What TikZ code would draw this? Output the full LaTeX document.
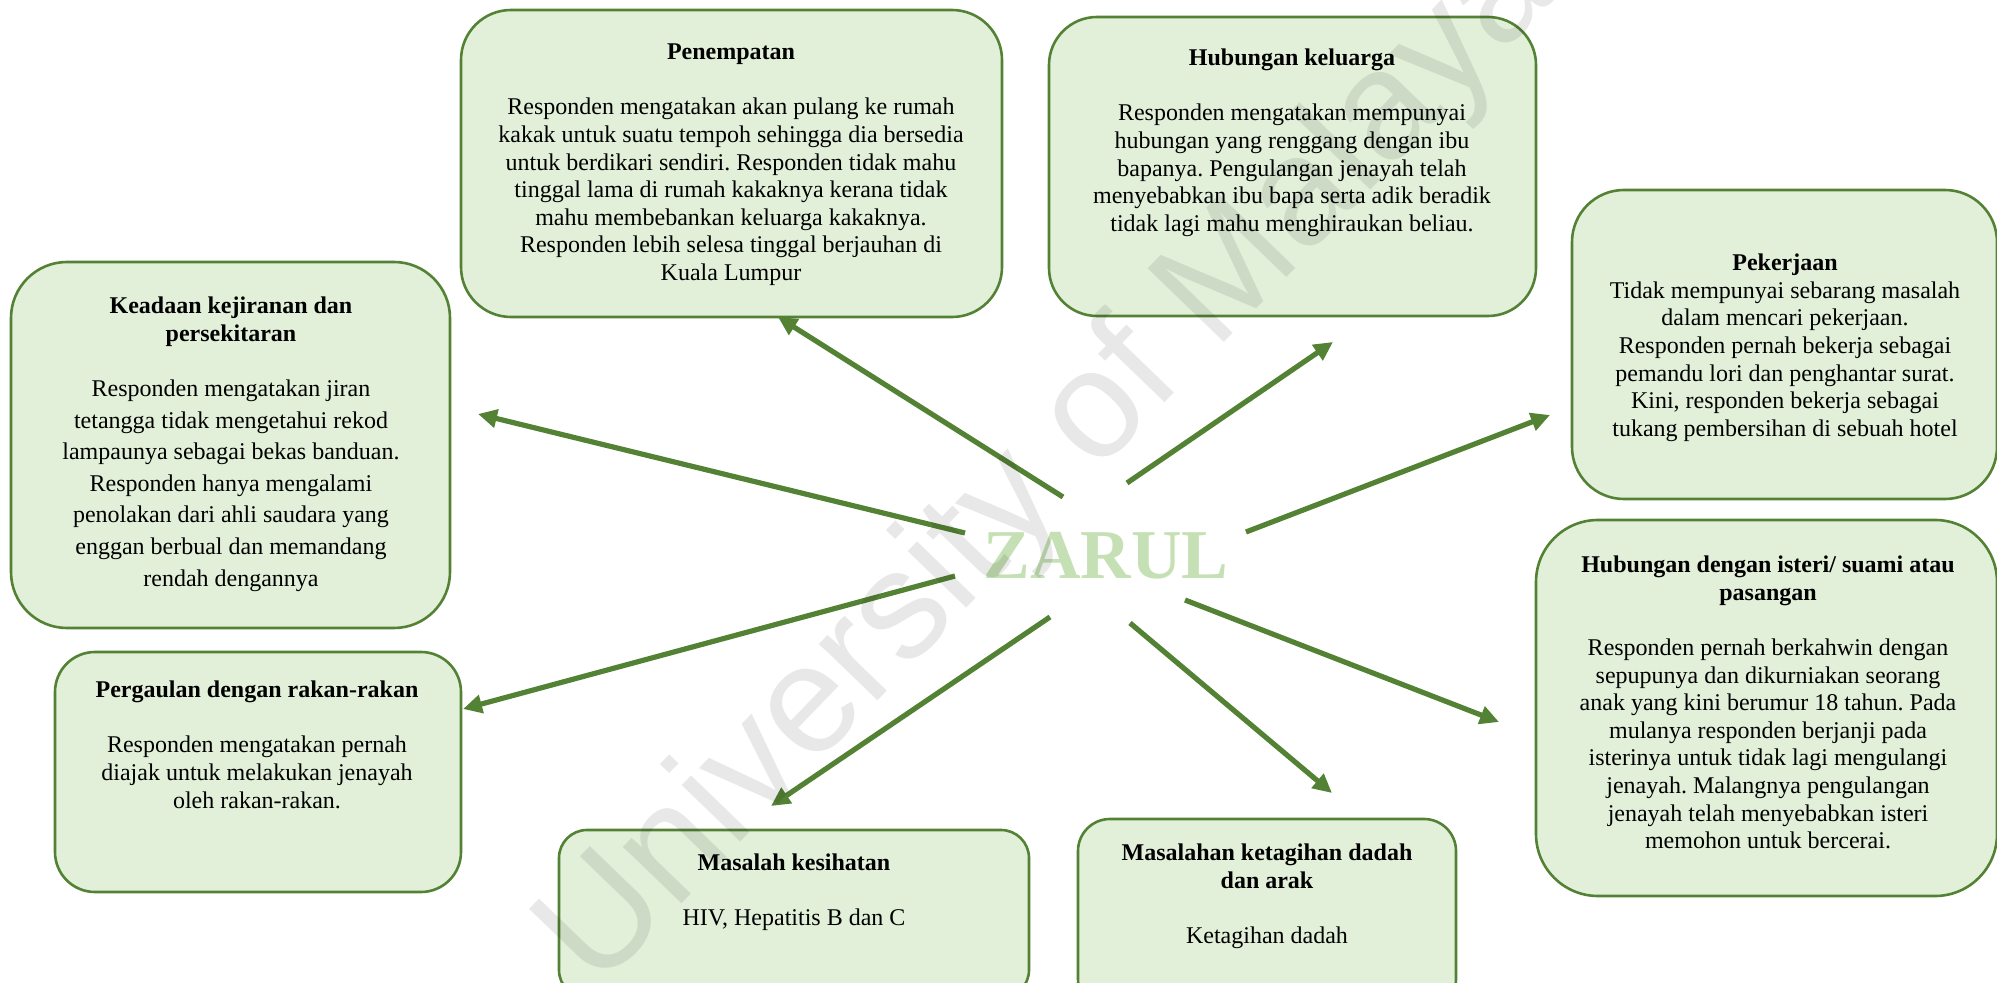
\documentclass[tikz,border=0pt]{standalone}
\usepackage{fontspec}
\setmainfont{Liberation Serif}
\newfontfamily\wmfont{Liberation Sans}
\usetikzlibrary{arrows.meta}
\definecolor{boxfill}{HTML}{E2F0D9}
\definecolor{boxline}{HTML}{548235}
\definecolor{zarulc}{HTML}{C5E0B4}
\tikzset{
  topic/.style={draw=boxline, line width=1.3pt, fill=boxfill, inner sep=0pt},
  txt/.style={anchor=north, inner sep=0pt, align=center, font=\fontsize{12}{13.8}\selectfont},
  link/.style={draw=boxline, line width=2.6pt, -{Triangle[length=9.5pt,width=9pt]}},
}
\frenchspacing
\begin{document}
\begin{tikzpicture}[x=0.5pt,y=-0.5pt]
\useasboundingbox (0,0) rectangle (1997,983);
\begin{scope}
\clip (0,0) rectangle (1997,983);
% boxes
\node[topic, minimum width=270.5pt, minimum height=153.5pt, rounded corners=25pt] (pen) at (731.5,163.5) {};
\node[topic, minimum width=243.5pt, minimum height=149.5pt, rounded corners=24pt] (kel) at (1292.5,166.5) {};
\node[topic, minimum width=212.5pt, minimum height=154.5pt, rounded corners=26pt] (kerja) at (1784.5,344.5) {};
\node[topic, minimum width=230.5pt, minimum height=188pt, rounded corners=31pt] (ist) at (1766.5,708) {};
\node[topic, minimum width=189pt, minimum height=96pt, rounded corners=16pt] (dadah) at (1267,915) {};
\node[topic, minimum width=235pt, minimum height=84pt, rounded corners=14pt] (sihat) at (794,914) {};
\node[topic, minimum width=203pt, minimum height=120pt, rounded corners=20pt] (rakan) at (258,772) {};
\node[topic, minimum width=219.5pt, minimum height=183pt, rounded corners=28pt] (jiran) at (230.5,445) {};
% texts
\node[txt] (penT) at (731,40) {\strut\textbf{Penempatan}\\[13.8pt]
Responden mengatakan akan pulang ke rumah\\
kakak untuk suatu tempoh sehingga dia bersedia\\
untuk berdikari sendiri. Responden tidak mahu\\
tinggal lama di rumah kakaknya kerana tidak\\
mahu membebankan keluarga kakaknya.\\
Responden lebih selesa tinggal berjauhan di\\
Kuala Lumpur};
\node[txt] (kelT) at (1292,46) {\strut\textbf{Hubungan keluarga}\\[13.8pt]
Responden mengatakan mempunyai\\
hubungan yang renggang dengan ibu\\
bapanya. Pengulangan jenayah telah\\
menyebabkan ibu bapa serta adik beradik\\
tidak lagi mahu menghiraukan beliau.};
\node[txt] (kerjaT) at (1785,251) {\strut\textbf{Pekerjaan}\\
Tidak mempunyai sebarang masalah\\
dalam mencari pekerjaan.\\
Responden pernah bekerja sebagai\\
pemandu lori dan penghantar surat.\\
Kini, responden bekerja sebagai\\
tukang pembersihan di sebuah hotel};
\node[txt] (istT) at (1768,553) {\strut\textbf{Hubungan dengan isteri/ suami atau}\\
\textbf{pasangan}\\[13.8pt]
Responden pernah berkahwin dengan\\
sepupunya dan dikurniakan seorang\\
anak yang kini berumur 18 tahun. Pada\\
mulanya responden berjanji pada\\
isterinya untuk tidak lagi mengulangi\\
jenayah. Malangnya pengulangan\\
jenayah telah menyebabkan isteri\\
memohon untuk bercerai.};
\node[txt] (dadahT) at (1267,841) {\strut\textbf{Masalahan ketagihan dadah}\\
\textbf{dan arak}\\[13.8pt]
Ketagihan dadah};
\node[txt] (sihatT) at (794,851) {\strut\textbf{Masalah kesihatan}\\[13.8pt]
HIV, Hepatitis B dan C};
\node[txt] (rakanT) at (257,678) {\strut\textbf{Pergaulan dengan rakan-rakan}\\[13.8pt]
Responden mengatakan pernah\\
diajak untuk melakukan jenayah\\
oleh rakan-rakan.};
\node[txt] (jiranT) at (231,294) {\strut\textbf{Keadaan kejiranan dan}\\
\textbf{persekitaran}\\[13.8pt]
Responden mengatakan jiran\\[2pt]
tetangga tidak mengetahui rekod\\[2pt]
lampaunya sebagai bekas banduan.\\[2pt]
Responden hanya mengalami\\[2pt]
penolakan dari ahli saudara yang\\[2pt]
enggan berbual dan memandang\\[2pt]
rendah dengannya};
% arrows
\coordinate (s1) at (1063,497); \coordinate (t1) at (778,317);
\coordinate (s2) at (965,533);  \coordinate (t2) at (478,414);
\coordinate (s3) at (1127,483); \coordinate (t3) at (1333,342);
\coordinate (s4) at (1246,532); \coordinate (t4) at (1550,415);
\coordinate (s5) at (955,576);  \coordinate (t5) at (463,709);
\coordinate (s6) at (1050,617); \coordinate (t6) at (771,806);
\coordinate (s7) at (1130,623); \coordinate (t7) at (1332,793);
\coordinate (s8) at (1185,600); \coordinate (t8) at (1499,722);
\draw[link] (s1) -- (t1);
\draw[link] (s2) -- (t2);
\draw[link] (s3) -- (t3);
\draw[link] (s4) -- (t4);
\draw[link] (s5) -- (t5);
\draw[link] (s6) -- (t6);
\draw[link] (s7) -- (t7);
\draw[link] (s8) -- (t8);
% centre label
\node[font=\fontsize{35}{35}\selectfont\bfseries, text=zarulc, inner sep=0pt] (zarul) at (1106,556) {ZARUL};
% watermark
\node[rotate=46, text=black, text opacity=0.09, font=\wmfont\fontsize{77}{77}\selectfont, inner sep=0pt] (wm) at (1050,465) {University of Malaya};
\end{scope}
\end{tikzpicture}
\end{document}
